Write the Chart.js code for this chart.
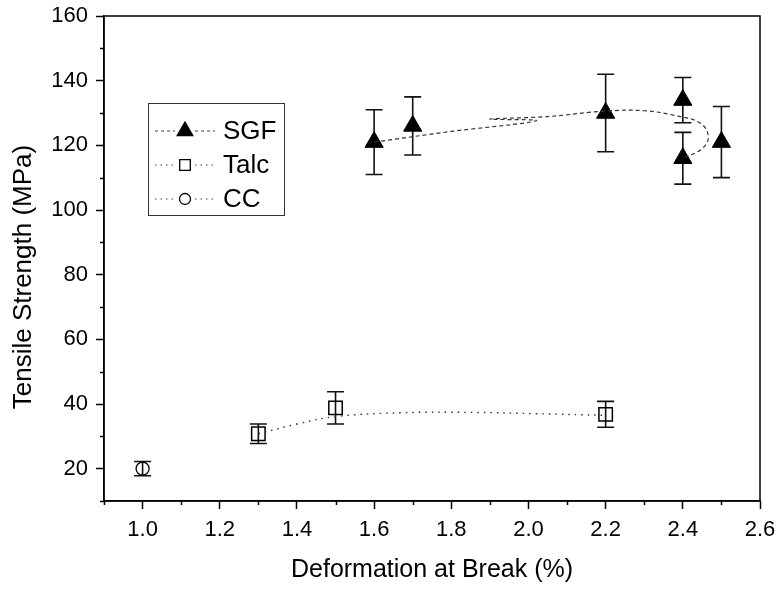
<!DOCTYPE html>
<html>
<head>
<meta charset="utf-8">
<script src="https://cdn.jsdelivr.net/npm/chart.js@4.4.0/dist/chart.umd.min.js"></script>
<style>
  html, body { margin: 0; padding: 0; background: #fff; }
  canvas { display: block; }
</style>
</head>
<body>
<canvas id="chart" width="778" height="590"></canvas>
<script>
const FONT = 'Arial, "Liberation Sans", sans-serif';

// measured points (x = deformation %, y = strength MPa, err = +/-)
const sgfX = [1.6, 1.7, 2.2, 2.4, 2.4, 2.5];
const sgfY = [121, 126, 130, 134, 116, 121];
const sgfErr = [10, 9, 12, 7, 8, 11];

const talcX = [1.3, 1.5, 2.2];
const talcY = [30.8, 38.8, 36.8];
const talcErr = [3, 5, 4];

const ccX = [1.0];
const ccY = [20];
const ccErr = [2.2];

// spline fits
const sgfFitX = [1.6, 1.8, 2.02, 1.9, 2.05, 2.2, 2.3, 2.38, 2.445, 2.466, 2.45, 2.4];
const sgfFitY = [121, 124.3, 127.6, 128.1, 128.9, 130.6, 130.7, 129.2, 126.9, 122.7, 119, 116];
const talcFitX = [1.3, 1.4, 1.5, 1.67, 1.85, 2.02, 2.2];
const talcFitY = [30.8, 33.8, 36.1, 37.3, 37.4, 37.0, 36.5];

const xTickMin = 0.9, xTickMax = 2.6;
const yTickMin = 10, yTickMax = 160;

const yTitle = 'Tensile Strength (MPa)';

const pts = (xs, ys) => xs.map((x, i) => ({ x: x, y: ys[i] }));

const isMajorX = v => Math.round(v * 10) % 2 === 0;
const isMajorY = v => Math.round(v) % 20 === 0;

// error bars under the markers
const errorBars = {
  id: 'errorBars',
  beforeDatasetsDraw(chart) {
    const { ctx, scales: { x, y } } = chart;
    const groups = [[sgfX, sgfY, sgfErr], [talcX, talcY, talcErr], [ccX, ccY, ccErr]];
    ctx.save();
    ctx.strokeStyle = '#111';
    ctx.lineWidth = 1.6;
    groups.forEach(([xs, ys, es]) => {
      xs.forEach((v, i) => {
        const px = x.getPixelForValue(v);
        const top = y.getPixelForValue(ys[i] + es[i]);
        const bot = y.getPixelForValue(ys[i] - es[i]);
        ctx.beginPath();
        ctx.moveTo(px, top); ctx.lineTo(px, bot);
        ctx.moveTo(px - 8.5, top); ctx.lineTo(px + 8.5, top);
        ctx.moveTo(px - 8.5, bot); ctx.lineTo(px + 8.5, bot);
        ctx.stroke();
      });
    });
    ctx.restore();
  }
};

// box round the plot, minor ticks, y title, legend
const frameAndLegend = {
  id: 'frameAndLegend',
  afterDraw(chart) {
    const { ctx, chartArea: a, scales: { x, y } } = chart;
    ctx.save();
    ctx.strokeStyle = '#000';
    ctx.lineWidth = 1.5;
    ctx.strokeRect(a.left, a.top, a.right - a.left, a.bottom - a.top);

    ctx.beginPath();
    x.ticks.forEach(t => {
      if (isMajorX(t.value)) return;
      const px = Math.round(x.getPixelForValue(t.value)) + 0.5;
      ctx.moveTo(px, a.bottom); ctx.lineTo(px, a.bottom + 4);
    });
    y.ticks.forEach(t => {
      if (isMajorY(t.value)) return;
      const py = Math.round(y.getPixelForValue(t.value)) + 0.5;
      ctx.moveTo(a.left, py); ctx.lineTo(a.left - 4, py);
    });
    ctx.stroke();

    // y axis title sits a bit below the middle in the original
    ctx.save();
    ctx.translate(24, 277);
    ctx.rotate(-Math.PI / 2);
    ctx.fillStyle = '#000';
    ctx.font = '26px ' + FONT;
    ctx.textAlign = 'center';
    ctx.textBaseline = 'middle';
    ctx.fillText(yTitle, 0, 0);
    ctx.restore();

    // legend
    const box = { x: 148, y: 103, w: 136, h: 112 };
    ctx.lineWidth = 1;
    ctx.strokeStyle = '#333';
    ctx.strokeRect(box.x + 0.5, box.y + 0.5, box.w, box.h);
    const entries = [
      { label: 'SGF', style: 'triangle', r: 9, fill: '#000', dash: [3, 3] },
      { label: 'Talc', style: 'rect', r: 7.5, fill: 'rgba(0,0,0,0)', dash: [1.5, 4] },
      { label: 'CC', style: 'circle', r: 5.5, fill: 'rgba(0,0,0,0)', dash: [1.5, 4] }
    ];
    const drawPoint = Chart.helpers.drawPoint;
    entries.forEach((e, i) => {
      const cy = 131 + i * 34;
      ctx.strokeStyle = '#444';
      ctx.lineWidth = 1.2;
      ctx.setLineDash(e.dash);
      ctx.beginPath();
      ctx.moveTo(155, cy); ctx.lineTo(175, cy);
      ctx.moveTo(195, cy); ctx.lineTo(215, cy);
      ctx.stroke();
      ctx.setLineDash([]);
      ctx.strokeStyle = '#000';
      ctx.fillStyle = e.fill;
      ctx.lineWidth = 1.3;
      drawPoint(ctx, { pointStyle: e.style, radius: e.r, rotation: 0, borderWidth: 1.3 }, 185, cy);
      ctx.fillStyle = '#000';
      ctx.font = '26px ' + FONT;
      ctx.textBaseline = 'middle';
      ctx.textAlign = 'left';
      ctx.fillText(e.label, 223, cy + 1);
    });
    ctx.restore();
  }
};

new Chart(document.getElementById('chart'), {
  type: 'scatter',
  data: {
    datasets: [
      {
        label: 'SGF fit', data: pts(sgfFitX, sgfFitY), showLine: true, tension: 0.4,
        borderColor: '#333', borderWidth: 1.2, borderDash: [4, 3], pointRadius: 0, fill: false
      },
      {
        label: 'Talc fit', data: pts(talcFitX, talcFitY), showLine: true, tension: 0.4,
        borderColor: '#333', borderWidth: 1.4, borderDash: [1.5, 5], pointRadius: 0, fill: false
      },
      {
        label: 'SGF', data: pts(sgfX, sgfY), pointStyle: 'triangle', pointRadius: 10.5,
        backgroundColor: '#000', borderColor: '#000', borderWidth: 1
      },
      {
        label: 'Talc', data: pts(talcX, talcY), pointStyle: 'rect', pointRadius: 9.5,
        backgroundColor: 'rgba(0,0,0,0)', borderColor: '#000', borderWidth: 1.5
      },
      {
        label: 'CC', data: pts(ccX, ccY), pointStyle: 'circle', pointRadius: 6.5,
        backgroundColor: 'rgba(0,0,0,0)', borderColor: '#000', borderWidth: 1.3
      }
    ]
  },
  options: {
    responsive: false,
    animation: false,
    layout: { padding: { left: 0, top: 16, right: 18, bottom: 0 } },
    plugins: { legend: { display: false }, tooltip: { enabled: false } },
    scales: {
      x: {
        type: 'linear', min: xTickMin, max: xTickMax,
        afterFit: s => { s.height = 89; s.paddingLeft = 0; s.paddingRight = 0; },
        border: { color: '#000', width: 1.5 },
        grid: {
          drawOnChartArea: false, tickLength: 8, tickWidth: 1.5,
          tickColor: c => (c.tick && isMajorX(c.tick.value)) ? '#000' : 'rgba(0,0,0,0)'
        },
        ticks: {
          stepSize: 0.1, autoSkip: false, maxRotation: 0, padding: 8,
          color: '#000', font: { family: FONT, size: 22 },
          callback: v => isMajorX(v) ? v.toFixed(1) : ''
        },
        title: {
          display: true, text: 'Deformation at Break (%)', color: '#000',
          font: { family: FONT, size: 25 }, padding: { top: 0, bottom: 5 }
        }
      },
      y: {
        type: 'linear', min: yTickMin, max: yTickMax,
        afterFit: s => { s.width = 104; s.paddingTop = 0; s.paddingBottom = 0; },
        border: { color: '#000', width: 1.5 },
        grid: {
          drawOnChartArea: false, tickLength: 8, tickWidth: 1.5,
          tickColor: c => (c.tick && isMajorY(c.tick.value)) ? '#000' : 'rgba(0,0,0,0)'
        },
        ticks: {
          stepSize: 10, autoSkip: false, padding: 8,
          color: '#000', font: { family: FONT, size: 22 },
          callback: v => isMajorY(v) ? String(v) : ''
        },
        title: { display: false }
      }
    }
  },
  plugins: [errorBars, frameAndLegend]
});
</script>
</body>
</html>
